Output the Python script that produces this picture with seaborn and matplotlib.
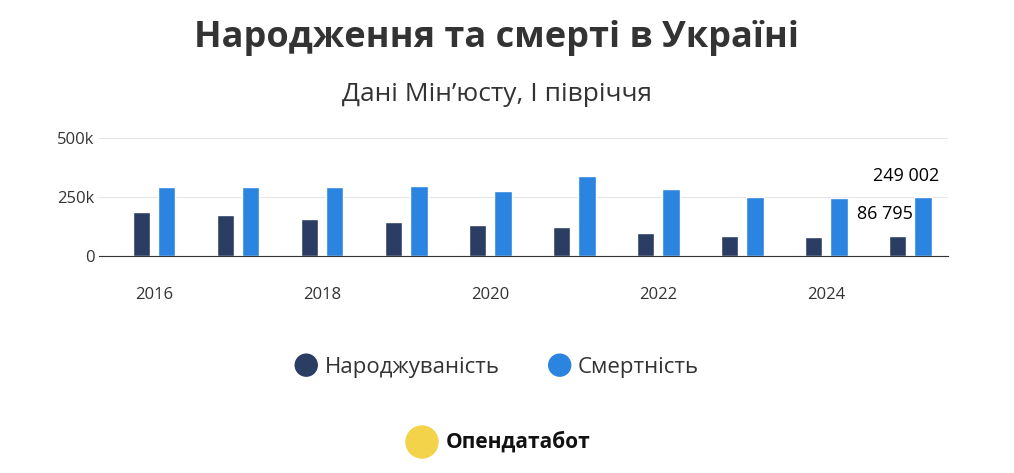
import numpy as np
import pandas as pd
import matplotlib.pyplot as plt
import seaborn as sns
from matplotlib.patches import Circle

years = list(range(2016, 2026))
births = [186000, 174000, 158000, 145000, 131000, 124000, 98000, 86000, 80000, 86795]
deaths = [292000, 292000, 292000, 298000, 278000, 339000, 285000, 253000, 248000, 249002]
series = ["Народжуваність", "Смертність"]
colors = ["#2b3d63", "#2b84e0"]

df = pd.DataFrame({"year": years * 2,
                   "value": births + deaths,
                   "series": [series[0]] * 10 + [series[1]] * 10})

sns.set_style("white")
plt.rcParams['font.family'] = ['Open Sans', 'DejaVu Sans']

fig = plt.figure(figsize=(10.14, 4.73), dpi=100)
ax = fig.add_axes([0.098, 0.458, 0.837, 0.25])
sns.barplot(data=df, x="year", y="value", hue="series", palette=colors,
            width=0.6, gap=0.3, saturation=1, ax=ax, legend=False)

ax.set_ylim(0, 500000)
ax.set_yticks([0, 250000, 500000])
ax.set_yticklabels(["0", "250k", "500k"], fontsize=12, color="#333333")
ax.set_xticks(range(0, 10, 2))
ax.set_xticklabels([str(y) for y in years[::2]], fontsize=12, color="#333333")
ax.tick_params(axis="x", pad=22, length=0)
ax.tick_params(axis="y", length=0)
ax.grid(axis="y", color="#e6e6e6")
ax.set_axisbelow(True)
for s in ["top", "right", "left"]:
    ax.spines[s].set_visible(False)
ax.spines["bottom"].set_color("#333333")
ax.set_xlabel("")
ax.set_ylabel("")
ax.set_xlim(-0.65, 9.45)

ax.text(9 - 0.3, births[-1] + 70000, "86 795", ha="center", fontsize=13,
        color="black")
ax.text(9 - 0.05, deaths[-1] + 70000, "249 002", ha="center", fontsize=13,
        color="black")

fig.text(0.49, 0.92, "Народження та смерті в Україні", ha="center", va="center",
         fontsize=26, fontweight="bold", color="#333333")
fig.text(0.49, 0.80, "Дані Мін’юсту, І півріччя", ha="center", va="center",
         fontsize=19, color="#333333")

# legend
for i, (lbl, c) in enumerate(zip(series, colors)):
    x0 = 0.302 + i * 0.25
    fig.patches.append(Circle((x0 * 1014, 0.228 * 473), 11, color=c,
                              transform=None, figure=fig))
    fig.text(x0 + 0.018, 0.224, lbl, ha="left", va="center", fontsize=16,
             color="#333333")

# logo
fig.patches.append(Circle((422, 473 - 442), 16, color="#f2d34a", transform=None, figure=fig))
fig.text(0.44, 0.065, "Опендатабот", ha="left", va="center", fontsize=15,
         fontweight="bold", color="#111111")

fig.savefig("out.png", dpi=100, facecolor="white")
